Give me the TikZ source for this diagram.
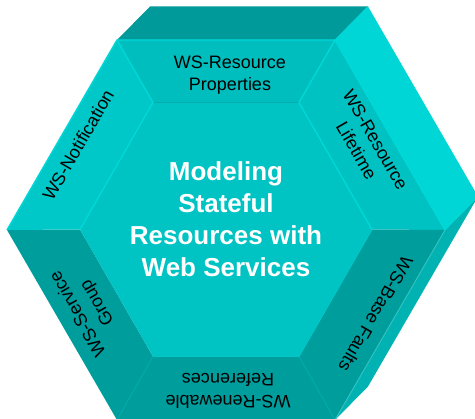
\documentclass[tikz,border=0pt]{standalone}
\usepackage{fontspec}
\setmainfont{Liberation Sans}
\begin{document}
\begin{tikzpicture}[x=1pt,y=-1pt,
  facettext/.style={font=\fontsize{18}{22}\selectfont, text=black, align=center, inner sep=0pt},
  titletext/.style={font=\bfseries\fontsize{26}{32}\selectfont, text=white, align=center, inner sep=0pt},
  hilite/.style={draw=cyanhi, line width=1.4pt, line join=round},
  shade/.style={draw=cyanedge, line width=1pt, line join=round}]
\definecolor{topface}{HTML}{009A9A}
\definecolor{sidebright}{HTML}{00D6D6}
\definecolor{sidemid}{HTML}{00B2B2}
\definecolor{facetlight}{HTML}{00C8C8}
\definecolor{facetmid}{HTML}{00C2C2}
\definecolor{facettop}{HTML}{00BEBE}
\definecolor{facetdark}{HTML}{009D9D}
\definecolor{centerface}{HTML}{00C3C3}
\definecolor{cyanhi}{HTML}{00D8D8}
\definecolor{cyanedge}{HTML}{00ABAB}
\useasboundingbox (0,0) rectangle (475,419);
% outer front hexagon
\coordinate (O1) at (117,40);
\coordinate (O2) at (335,40);
\coordinate (O3) at (445,230);
\coordinate (O4) at (335,420);
\coordinate (O5) at (117,420);
\coordinate (O6) at (7,230);
% back edges of the extrusion
\coordinate (B1) at (150,6.5);
\coordinate (B2) at (368,6.5);
\coordinate (B3) at (478,196.5);
\coordinate (B4) at (368,386.5);
% inner hexagon
\coordinate (I1) at (153,102.5);
\coordinate (I2) at (299,102.5);
\coordinate (I3) at (372,229.5);
\coordinate (I4) at (299,356.5);
\coordinate (I5) at (153,356.5);
\coordinate (I6) at (80,229.5);
\begin{scope}
\clip (0,0) rectangle (475,419);
% extrusion faces
\fill[topface] (O1) -- (O2) -- (B2) -- (B1) -- cycle;
\fill[sidebright] (O2) -- (B2) -- (B3) -- (O3) -- cycle;
\fill[sidemid] (O3) -- (B3) -- (B4) -- (O4) -- cycle;
% front facets
\fill[facettop] (O1) -- (O2) -- (I2) -- (I1) -- cycle;
\fill[facetmid] (O2) -- (O3) -- (I3) -- (I2) -- cycle;
\fill[facetdark] (O3) -- (O4) -- (I4) -- (I3) -- cycle;
\fill[facetdark] (O4) -- (O5) -- (I5) -- (I4) -- cycle;
\fill[facetdark] (O5) -- (O6) -- (I6) -- (I5) -- cycle;
\fill[facetlight] (O6) -- (O1) -- (I1) -- (I6) -- cycle;
\fill[centerface] (I1) -- (I2) -- (I3) -- (I4) -- (I5) -- (I6) -- cycle;
% bevel edges
\draw[shade] (I1) -- (I2);
\draw[shade] (O5) -- (I5) (O4) -- (I4);
\draw[draw=sidemid!80!white, line width=1pt] (O3) -- (O4);
\draw[hilite] (O6) -- (O1) -- (O2) -- (O3);
\draw[hilite] (O1) -- (I1) -- (I6);
\draw[hilite] (O2) -- (I2) -- (I3);
\draw[draw=cyanhi!70!facetdark, line width=1pt] (I3) -- (I4) -- (I5);
\draw[draw=cyanhi, line width=0.8pt] (O2) -- (B2) (O3) -- (B3);
\end{scope}
% labels
\node[titletext] (title) at (226,219) {Modeling\\Stateful\\Resources with\\Web Services};
\node[facettext] (props) at (230,75) {WS-Resource\\Properties};
\node[facettext, rotate=-60] (life) at (366,145) {WS-Resource\\Lifetime};
\node[facettext, rotate=-120] (faults) at (376,314) {WS-Base Faults};
\node[facettext, rotate=180] (renew) at (228,391) {WS-Renewable\\References};
\node[facettext, rotate=120] (group) at (88,308) {WS-Service\\Group};
\node[facettext, rotate=60] (notif) at (78,145) {WS-Notification};
\end{tikzpicture}
\end{document}
